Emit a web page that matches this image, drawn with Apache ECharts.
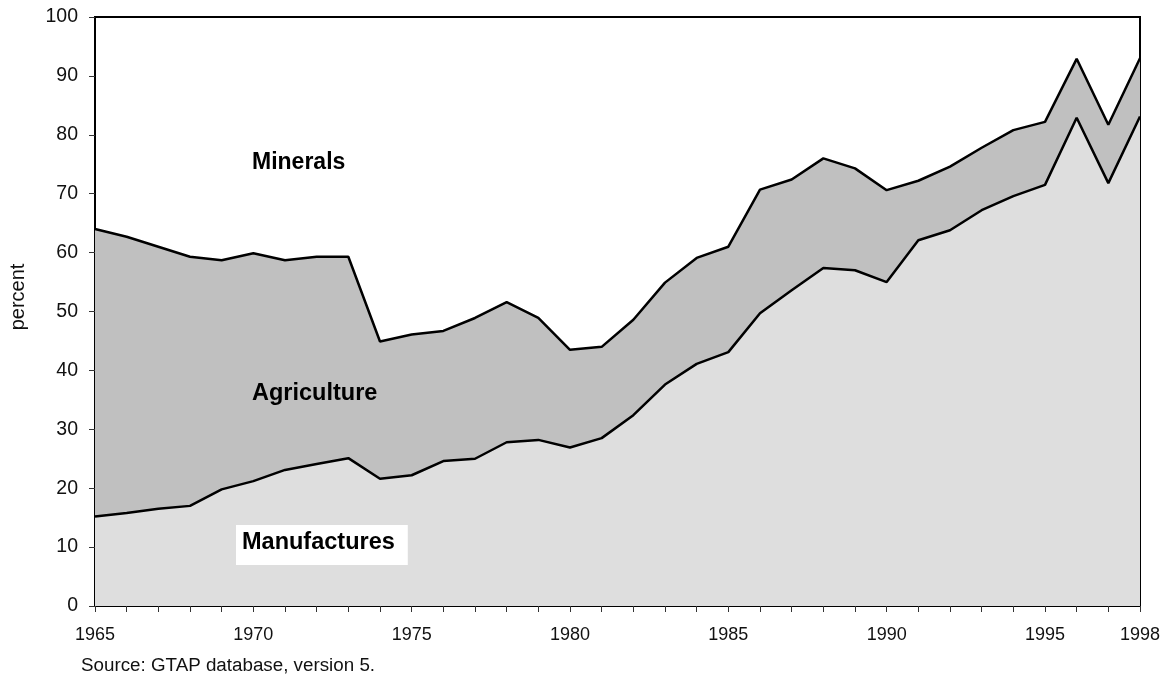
<!DOCTYPE html>
<html>
<head>
<meta charset="utf-8">
<script src="https://cdn.jsdelivr.net/npm/echarts@6/dist/echarts.min.js"></script>
<style>
  html, body { margin: 0; padding: 0; background: #fff; }
  #chart { width: 1174px; height: 681px; }
</style>
</head>
<body>
<div id="chart"></div>
<script>
// Export shares by sector, percent of total
const years = ['1965', '1966', '1967', '1968', '1969', '1970', '1971', '1972', '1973', '1974', '1975',
  '1976', '1977', '1978', '1979', '1980', '1981', '1982', '1983', '1984', '1985', '1986', '1987', '1988',
  '1989', '1990', '1991', '1992', '1993', '1994', '1995', '1996', '1997', '1998'];

const manufactures = [15.2, 15.8, 16.5, 17.0, 19.8, 21.2, 23.1, 24.1, 25.1, 21.6, 22.2,
  24.6, 25.0, 27.8, 28.2, 26.9, 28.5, 32.4, 37.6, 41.1, 43.1, 49.7, 53.6, 57.4,
  57.0, 55.0, 62.1, 63.8, 67.2, 69.6, 71.5, 82.9, 71.8, 83.1];

const agriculture = [48.8, 46.9, 44.5, 42.3, 38.9, 38.7, 35.6, 35.2, 34.2, 23.3, 23.9,
  22.1, 23.9, 23.8, 20.7, 16.6, 15.5, 16.2, 17.3, 18.0, 17.9, 21.0, 18.8, 18.6,
  17.3, 15.6, 10.1, 10.8, 10.6, 11.2, 10.7, 10.0, 9.9, 9.9];

const yTicks = [0, 10, 20, 30, 40, 50, 60, 70, 80, 90, 100];
const xLabelYears = ['1965', '1970', '1975', '1980', '1985', '1990', '1995', '1998'];

const FONT = '"Liberation Sans", Arial, sans-serif';

const chart = echarts.init(document.getElementById('chart'), null, { renderer: 'canvas' });

chart.setOption({
  animation: false,
  backgroundColor: '#ffffff',
  grid: {
    left: 95, right: 34, top: 17, bottom: 75,
    show: true, borderColor: '#000', borderWidth: 2, backgroundColor: 'transparent'
  },
  xAxis: {
    type: 'category',
    data: years,
    boundaryGap: false,
    splitLine: { show: false },
    axisLine: { show: true, lineStyle: { color: '#000', width: 2 } },
    axisTick: { show: true, inside: false, length: 6, interval: 0, lineStyle: { color: '#333', width: 1 } },
    axisLabel: {
      show: true, interval: 0, margin: 20, color: '#111', fontSize: 18, fontFamily: FONT,
      formatter: v => xLabelYears.includes(v) ? v : ''
    }
  },
  yAxis: {
    type: 'value',
    min: yTicks[0], max: yTicks[yTicks.length - 1], interval: 10,
    splitLine: { show: false },
    axisLine: { show: true, lineStyle: { color: '#000', width: 2 } },
    axisTick: { show: true, inside: false, length: 6, lineStyle: { color: '#333', width: 1 } },
    axisLabel: { color: '#111', fontSize: 19.5, fontFamily: FONT, margin: 17 }
  },
  series: [
    {
      name: 'Manufactures', type: 'line', stack: 'share',
      data: manufactures, symbol: 'none',
      lineStyle: { color: '#000', width: 2.5 },
      areaStyle: { color: '#dedede', opacity: 1 },
      z: 3
    },
    {
      name: 'Agriculture', type: 'line', stack: 'share',
      data: agriculture, symbol: 'none',
      lineStyle: { color: '#000', width: 2.5 },
      areaStyle: { color: '#c0c0c0', opacity: 1 },
      z: 2
    }
  ],
  graphic: [
    {
      type: 'text', x: 18, y: 297, rotation: Math.PI / 2, z: 10,
      style: {
        text: 'percent', fill: '#111', font: '20px ' + FONT,
        textAlign: 'center', textVerticalAlign: 'middle'
      }
    },
    {
      type: 'text', left: 252, top: 151, z: 10,
      style: { text: 'Minerals', fill: '#000', font: 'bold 23px ' + FONT }
    },
    {
      type: 'text', left: 252, top: 382, z: 10,
      style: { text: 'Agriculture', fill: '#000', font: 'bold 23.5px ' + FONT }
    },
    {
      type: 'text', left: 236, top: 525, z: 10,
      style: {
        text: 'Manufactures', fill: '#000', font: 'bold 23.5px ' + FONT,
        backgroundColor: '#fff', padding: [6, 13, 10, 6]
      }
    },
    {
      type: 'text', left: 81, top: 656, z: 10,
      style: { text: 'Source: GTAP database, version 5.', fill: '#111', font: '18.8px ' + FONT }
    }
  ]
});
</script>
</body>
</html>
